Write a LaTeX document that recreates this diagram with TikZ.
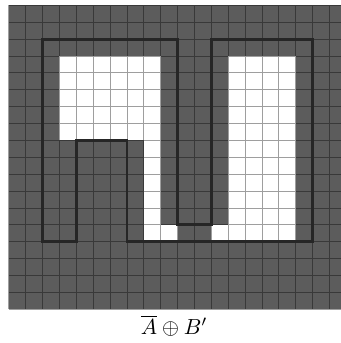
\documentclass[tikz,border=0pt]{standalone}
\begin{document}
\begin{tikzpicture}[x=0.34cm,y=0.34cm,
  darkcell/.style={fill=black!64},
  whitecell/.style={fill=white},
  gridline/.style={draw=black,opacity=0.38,line width=0.5pt},
  outline/.style={draw=black!85,line width=1.6pt,line join=miter}]
\useasboundingbox (-0.52,-2.0) rectangle (19.67,18.32);
\clip (-0.52,-2.0) rectangle (19.67,18.32);
% dark background grid
\fill[darkcell] (0,0) rectangle (20,18);
% white cells
\fill[whitecell] (3,10) rectangle (9,15);
\fill[whitecell] (8,4) rectangle (9,10);
\fill[whitecell] (9,4) rectangle (10,5);
\fill[whitecell] (12,4) rectangle (13,5);
\fill[whitecell] (13,4) rectangle (17,15);
% grid lines
\draw[gridline,step=0.34cm] (0,0) grid (20,18);
% outline of the set
\draw[outline] (2,16) -- (10,16) -- (10,5) -- (12,5) -- (12,16) -- (18,16)
  -- (18,4) -- (7,4) -- (7,10) -- (4,10) -- (4,4) -- (2,4) -- cycle;
% label
\node[scale=1.25] (lbl) at (9.8,-0.95) {$\overline{A}\oplus B'$};
\end{tikzpicture}
\end{document}
